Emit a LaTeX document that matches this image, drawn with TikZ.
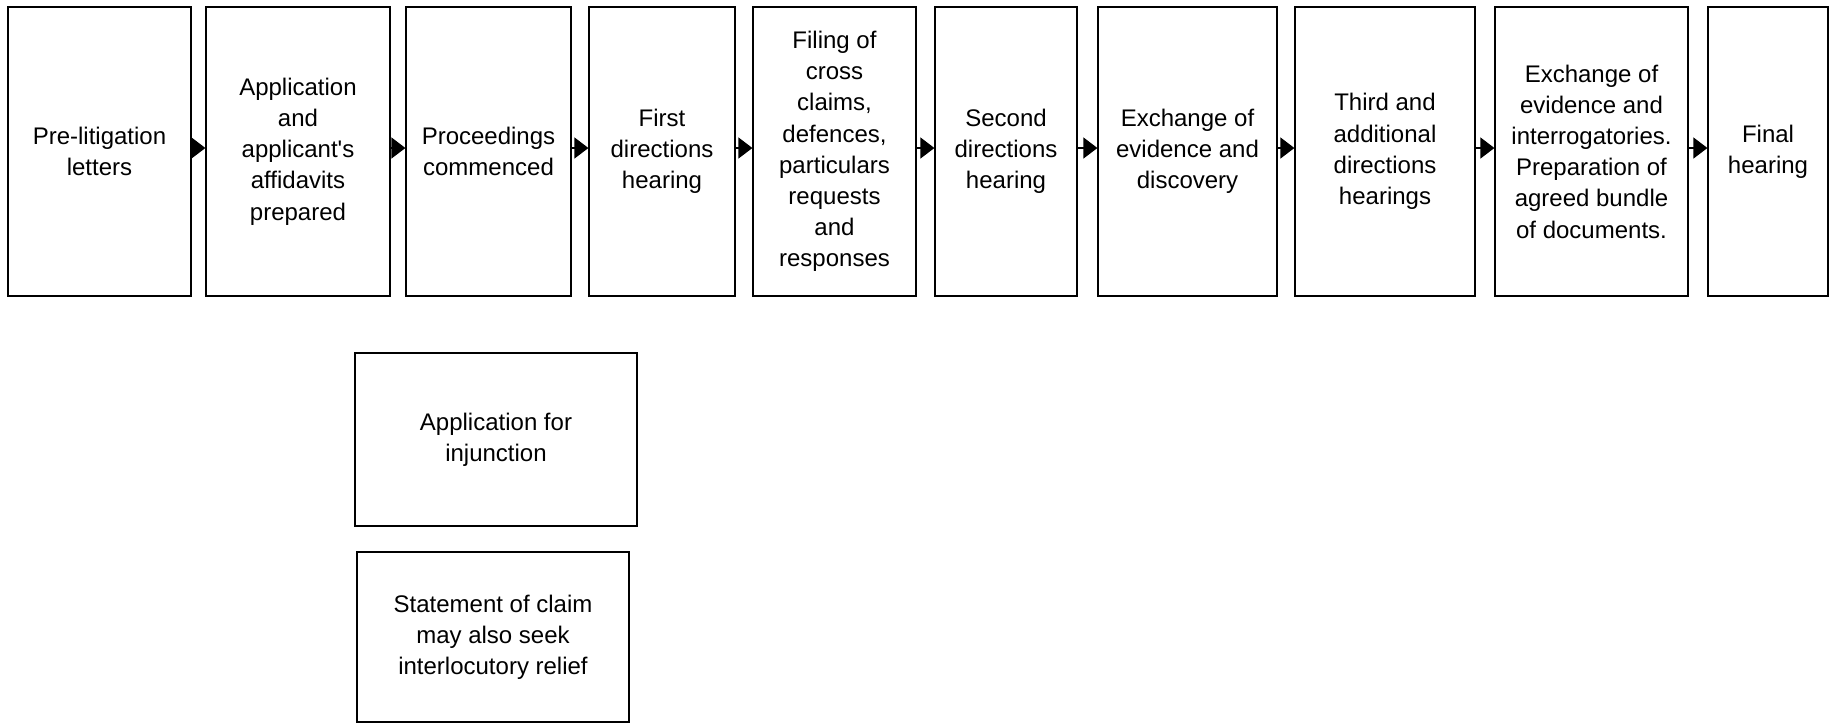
\documentclass[tikz,border=0pt]{standalone}
\usepackage{fontspec}
\setmainfont{Liberation Sans}
\usetikzlibrary{arrows.meta}
\tikzset{
  stage/.style={draw=black, line width=1.2pt, rectangle, inner sep=0pt, align=center,
    font=\fontsize{12pt}{15.6pt}\selectfont},
  arr/.style={-{Triangle[length=7pt,width=10.5pt]}, line width=0.6pt, shorten <=-0.6pt, shorten >=-0.3pt}
}
\begin{document}
\begin{tikzpicture}[x=0.5pt,y=-0.5pt]
\useasboundingbox (0,0) rectangle (1832,725);
% top row (y 7..296)
\node[stage, minimum width=91.5pt, minimum height=144.5pt] (b1) at (99.5,151.5) {Pre-litigation\\letters};
\node[stage, minimum width=92pt, minimum height=144.5pt] (b2) at (298,151.5) {Application\\and\\applicant\textquotesingle s\\affidavits\\prepared};
\node[stage, minimum width=82.5pt, minimum height=144.5pt] (b3) at (488.5,151.5) {Proceedings\\commenced};
\node[stage, minimum width=73pt, minimum height=144.5pt] (b4) at (662,151.5) {First\\directions\\hearing};
\node[stage, minimum width=81.5pt, minimum height=144.5pt] (b5) at (834.5,151.5) {Filing of\\cross\\claims,\\defences,\\particulars\\requests\\and\\responses};
\node[stage, minimum width=71pt, minimum height=144.5pt] (b6) at (1006,151.5) {Second\\directions\\hearing};
\node[stage, minimum width=89.5pt, minimum height=144.5pt] (b7) at (1187.5,151.5) {Exchange of\\evidence and\\discovery};
\node[stage, minimum width=90pt, minimum height=144.5pt] (b8) at (1385,151.5) {Third and\\additional\\directions\\hearings};
\node[stage, minimum width=96.5pt, minimum height=144.5pt] (b9) at (1591.5,151.5) {Exchange of\\evidence and\\interrogatories.\\Preparation of\\agreed bundle\\of documents.};
\node[stage, minimum width=60pt, minimum height=144.5pt] (b10) at (1768,151.5) {Final\\hearing};
% lower boxes
\node[stage, minimum width=141pt, minimum height=86.5pt] (inj) at (496,439.5) {Application for\\injunction};
\node[stage, minimum width=136pt, minimum height=85pt] (soc) at (493,637) {Statement of claim\\may also seek\\interlocutory relief};
% connectors
\foreach \a/\b in {b1/b2,b2/b3,b3/b4,b4/b5,b5/b6,b6/b7,b7/b8,b8/b9,b9/b10}
  \draw[arr] ([yshift=1.75pt]\a.east) -- ([yshift=1.75pt]\b.west);
\end{tikzpicture}
\end{document}
